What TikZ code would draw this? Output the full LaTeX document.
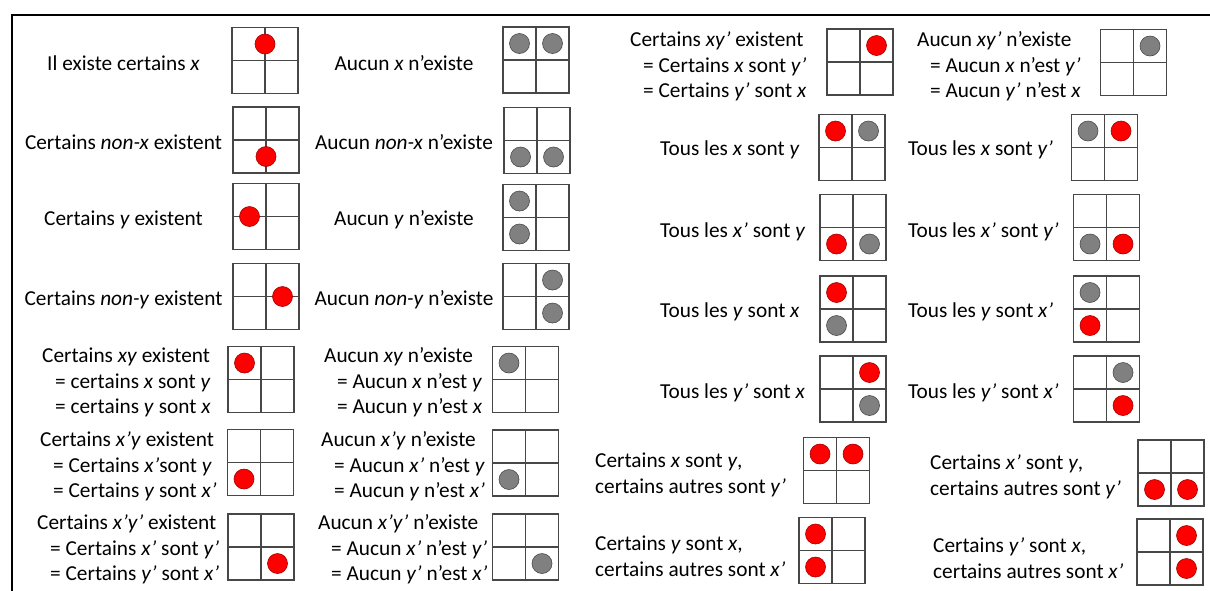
\documentclass[tikz,border=0pt]{standalone}
\usepackage{fontspec}
\setmainfont{Carlito}
\usetikzlibrary{positioning}
\definecolor{dotred}{HTML}{FF0000}
\definecolor{dotredline}{HTML}{A00000}
\definecolor{dotgrey}{HTML}{808080}
\definecolor{dotgreyline}{HTML}{4A4A4A}
\definecolor{gridgrey}{HTML}{474747}
\tikzset{
  gridline/.style={draw=gridgrey, line width=1.1pt},
  reddot/.style={fill=dotred, draw=dotredline, line width=0.6pt},
  greydot/.style={fill=dotgrey, draw=dotgreyline, line width=0.6pt},
  lbl/.style={inner sep=0pt, font=\fontsize{21.3}{25.5}\selectfont},
  lblw/.style={lbl, align=left, anchor=west},
}
\newcommand{\quadgrid}[2]{%
  \draw[gridline] (#1-33,#2-33) rectangle (#1+33,#2+33);
  \draw[gridline] (#1,#2-33) -- (#1,#2+33) (#1-33,#2) -- (#1+33,#2);
}
\newcommand{\eqi}{\hspace*{13pt}= }

\begin{document}
\begin{tikzpicture}[x=1pt, y=-1pt]
    \useasboundingbox (0,0) rectangle (1210,590);
    \fill[white] (0,0) rectangle (1210,590);
    \draw[line width=2pt] (12,595) -- (12,15) -- (1215,15);

    % grids
    \foreach \cx/\cy in {265/60.5, 266/140, 266/216.5, 266/296.5, 261/379.5, 260.5/462.5, 261/547,
        536/60, 537/140.5, 536/217.5, 536/296.5, 525.5/379.5, 525.5/463, 525.5/547,
        860/62, 852/147.5, 853/227.5, 853/309, 853/389, 836.5/470.5, 832/550.5,
        1133.5/62.5, 1104.5/147.5, 1106.5/227.5, 1106.5/309, 1106.5/389, 1171/473, 1170/552}
        {\quadgrid{\cx}{\cy}}

    % dots
    \foreach \dx/\dy in {265/44, 266/156.5, 249.5/216.5, 282.5/296.5, 244.5/363, 244/479, 277.5/563.5,
        876.5/45.5, 835.5/131, 836.5/244, 836.5/292.5, 869.5/372.5, 820/454, 853/454, 815.5/534, 815.5/567,
        1121/131, 1123/244, 1090/325.5, 1123/405.5, 1154.5/489.5, 1187.5/489.5, 1186.5/535.5, 1186.5/568.5}
        {\draw[reddot] (\dx,\dy) circle[radius=10];}
    \foreach \dx/\dy in {519.5/43.5, 552.5/43.5, 520.5/157, 553.5/157, 519.5/201, 519.5/234, 552.5/280, 552.5/313,
        509/363, 509/479.5, 542/563.5,
        868.5/131, 869.5/244, 836.5/325.5, 869.5/405.5,
        1150/46, 1088/131, 1090/244, 1090/292.5, 1123/372.5}
        {\draw[greydot] (\dx,\dy) circle[radius=10];}

    \begin{scope}[yshift=-1.5pt]
    % left column
    \node[lbl] (exx) at (123.5,62) {Il existe certains \textit{x}};
    \node[lbl] (exnx) at (123.5,141) {Certains \textit{non-x} existent};
    \node[lbl] (exy) at (123.5,218) {Certains \textit{y} existent};
    \node[lbl] (exny) at (123.5,298) {Certains \textit{non-y} existent};
    \node[lblw] (exxy) at (42,381) {Certains \textit{xy} existent\\ \eqi certains \textit{x} sont \textit{y}\\ \eqi certains \textit{y} sont \textit{x}};
    \node[lblw] (exnxy) at (40,465) {Certains \textit{x’y} existent\\ \eqi Certains \textit{x’}sont \textit{y}\\ \eqi Certains \textit{y} sont \textit{x’}};
    \node[lblw] (exnxny) at (37,548) {Certains \textit{x’y’} existent\\ \eqi Certains \textit{x’} sont \textit{y’}\\ \eqi Certains \textit{y’} sont \textit{x’}};

    % second column
    \node[lbl] (nox) at (404,62) {Aucun \textit{x} n’existe};
    \node[lbl] (nonx) at (404,141) {Aucun \textit{non-x} n’existe};
    \node[lbl] (noy) at (404,218) {Aucun \textit{y} n’existe};
    \node[lbl] (nony) at (404,298) {Aucun \textit{non-y} n’existe};
    \node[lblw] (noxy) at (324,381) {Aucun \textit{xy} n’existe\\ \eqi Aucun \textit{x} n’est \textit{y}\\ \eqi Aucun \textit{y} n’est \textit{x}};
    \node[lblw] (nonxy) at (321,465) {Aucun \textit{x’y} n’existe\\ \eqi Aucun \textit{x’} n’est \textit{y}\\ \eqi Aucun \textit{y} n’est \textit{x’}};
    \node[lblw] (nonxny) at (318,548) {Aucun \textit{x’y’} n’existe\\ \eqi Aucun \textit{x’} n’est \textit{y’}\\ \eqi Aucun \textit{y’} n’est \textit{x’}};

    % third column
    \node[lblw] (exxny) at (630,65) {Certains \textit{xy’} existent\\ \eqi Certains \textit{x} sont \textit{y’}\\ \eqi Certains \textit{y’} sont \textit{x}};
    \node[lblw] (allxy) at (660,148) {Tous les \textit{x} sont \textit{y}};
    \node[lblw] (allnxy) at (660,230) {Tous les \textit{x’} sont \textit{y}};
    \node[lblw] (allyx) at (660,310) {Tous les \textit{y} sont \textit{x}};
    \node[lblw] (allnyx) at (660,391) {Tous les \textit{y’} sont \textit{x}};
    \node[lblw] (somexy) at (595,473.5) {Certains \textit{x} sont \textit{y},\\ certains autres sont \textit{y’}};
    \node[lblw] (someyx) at (595,554.5) {Certains \textit{y} sont \textit{x},\\ certains autres sont \textit{x’}};

    % fourth column
    \node[lblw] (noxny) at (917,65) {Aucun \textit{xy’} n’existe\\ \eqi Aucun \textit{x} n’est \textit{y’}\\ \eqi Aucun \textit{y’} n’est \textit{x}};
    \node[lblw] (allxny) at (908,148) {Tous les \textit{x} sont \textit{y’}};
    \node[lblw] (allnxny) at (908,230) {Tous les \textit{x’} sont \textit{y’}};
    \node[lblw] (allynx) at (908,310) {Tous les \textit{y} sont \textit{x’}};
    \node[lblw] (allnynx) at (908,391) {Tous les \textit{y’} sont \textit{x’}};
    \node[lblw] (somenxy) at (930,475.5) {Certains \textit{x’} sont \textit{y},\\ certains autres sont \textit{y’}};
    \node[lblw] (somenyx) at (933,556.5) {Certains \textit{y’} sont \textit{x},\\ certains autres sont \textit{x’}};
    \end{scope}
\end{tikzpicture}
\end{document}
